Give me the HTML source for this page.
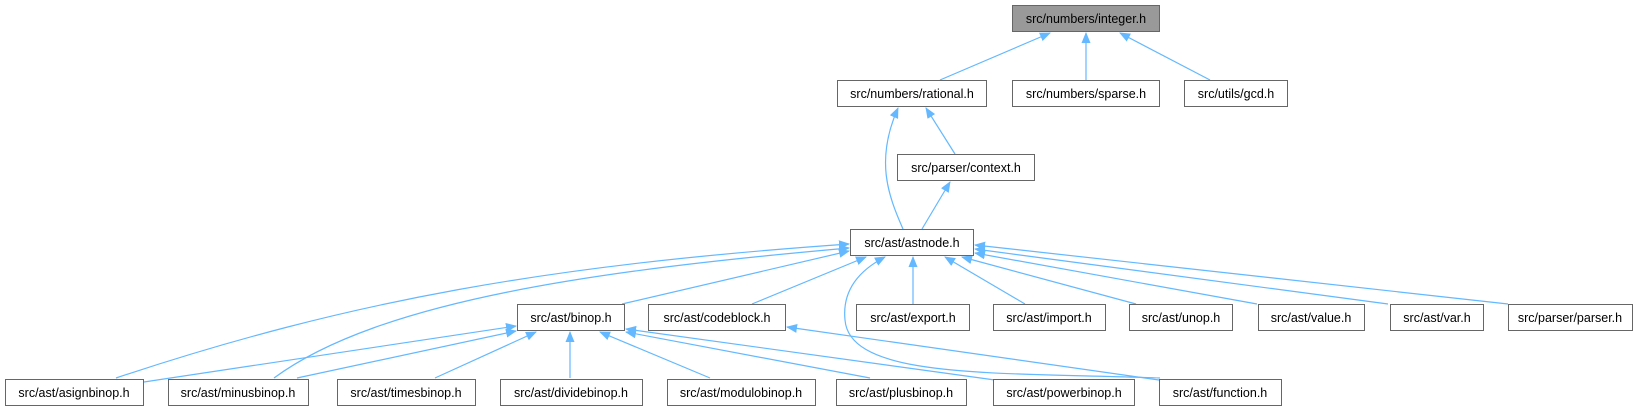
<!DOCTYPE html>
<html><head><meta charset="utf-8"><style>
html,body{margin:0;padding:0;background:#fff;}
svg{display:block;}
text{font-family:"Liberation Sans",Arial,sans-serif;font-size:12.5px;fill:#000;}
</style></head><body>
<svg width="1641" height="411" viewBox="0 0 1641 411" xmlns="http://www.w3.org/2000/svg">
<defs>
<marker id="a" markerWidth="11" markerHeight="9" refX="10" refY="4.5" orient="auto" markerUnits="userSpaceOnUse">
<path d="M0,0 L11,4.5 L0,9 Z" fill="#63b8ff"/>
</marker>
</defs>
<g fill="none" stroke="#63b8ff" stroke-width="1.2" marker-end="url(#a)">
<path d="M940,80 L1050,33"/>
<path d="M1086,80 L1086,33"/>
<path d="M1210,80 L1120,33"/>
<path d="M955,154 L926,108"/>
<path d="M903,229 C888,195 875,160 898,108"/>
<path d="M922,229 L950,182"/>
<path d="M116,378 C350,300 550,265 849,244"/>
<path d="M274,378 C380,300 600,270 849,248"/>
<path d="M622,304 L849,251"/>
<path d="M752,304 L866,257"/>
<path d="M913,304 L913,257"/>
<path d="M1025,304 L945,257"/>
<path d="M1136,304 L962,257"/>
<path d="M1257,304 L975,253"/>
<path d="M1388,304 L975,249"/>
<path d="M1508,304 L975,245"/>
<path d="M1160,378 C1000,372 850,380 845,320 C842,290 860,270 885,257"/>
<path d="M144,382 L516,326"/>
<path d="M297,378 L516,331"/>
<path d="M435,378 L536,332"/>
<path d="M570,378 L570,332"/>
<path d="M710,378 L600,332"/>
<path d="M870,378 L626,332"/>
<path d="M995,380 L626,329"/>
<path d="M1159,380 L787,327"/>
</g>
<g stroke="#666" stroke-width="1" fill="#fff">
<rect x="1012.5" y="5.5" width="147" height="26" fill="#999"/>
<rect x="837.5" y="80.5" width="149" height="26"/>
<rect x="1012.5" y="80.5" width="147" height="26"/>
<rect x="1184.5" y="80.5" width="103" height="26"/>
<rect x="897.5" y="154.5" width="137" height="26"/>
<rect x="850.5" y="229.5" width="123" height="26"/>
<rect x="517.5" y="304.5" width="107" height="26"/>
<rect x="648.5" y="304.5" width="137" height="26"/>
<rect x="856.5" y="304.5" width="113" height="26"/>
<rect x="993.5" y="304.5" width="112" height="26"/>
<rect x="1129.5" y="304.5" width="103" height="26"/>
<rect x="1258.5" y="304.5" width="106" height="26"/>
<rect x="1390.5" y="304.5" width="93" height="26"/>
<rect x="1508.5" y="304.5" width="124" height="26"/>
<rect x="5.5" y="379.5" width="138" height="26"/>
<rect x="168.5" y="379.5" width="140" height="26"/>
<rect x="337.5" y="379.5" width="138" height="26"/>
<rect x="500.5" y="379.5" width="142" height="26"/>
<rect x="667.5" y="379.5" width="148" height="26"/>
<rect x="836.5" y="379.5" width="130" height="26"/>
<rect x="993.5" y="379.5" width="141" height="26"/>
<rect x="1159.5" y="379.5" width="122" height="26"/>
</g>
<g text-anchor="middle">
<text x="1086" y="23">src/numbers/integer.h</text>
<text x="912" y="98">src/numbers/rational.h</text>
<text x="1086" y="98">src/numbers/sparse.h</text>
<text x="1236" y="98">src/utils/gcd.h</text>
<text x="966" y="172">src/parser/context.h</text>
<text x="912" y="247">src/ast/astnode.h</text>
<text x="571" y="322">src/ast/binop.h</text>
<text x="717" y="322">src/ast/codeblock.h</text>
<text x="913" y="322">src/ast/export.h</text>
<text x="1049" y="322">src/ast/import.h</text>
<text x="1181" y="322">src/ast/unop.h</text>
<text x="1311" y="322">src/ast/value.h</text>
<text x="1437" y="322">src/ast/var.h</text>
<text x="1570" y="322">src/parser/parser.h</text>
<text x="74" y="397">src/ast/asignbinop.h</text>
<text x="238" y="397">src/ast/minusbinop.h</text>
<text x="406" y="397">src/ast/timesbinop.h</text>
<text x="571" y="397">src/ast/dividebinop.h</text>
<text x="741" y="397">src/ast/modulobinop.h</text>
<text x="901" y="397">src/ast/plusbinop.h</text>
<text x="1064" y="397">src/ast/powerbinop.h</text>
<text x="1220" y="397">src/ast/function.h</text>
</g>
</svg>
</body></html>
